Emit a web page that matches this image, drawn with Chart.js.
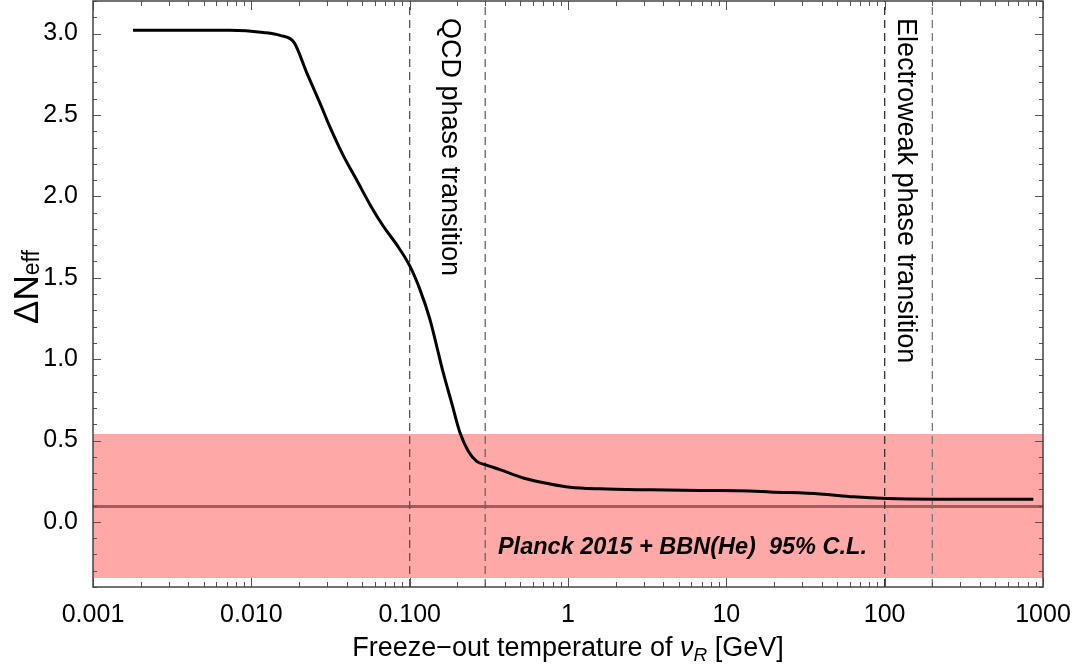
<!DOCTYPE html>
<html>
<head>
<meta charset="utf-8">
<script src="https://cdn.jsdelivr.net/npm/chart.js@4.4.1/dist/chart.umd.min.js"></script>
<style>
  html, body { margin: 0; padding: 0; background: #fff; }
  #wrap { width: 1077px; height: 671px; }
</style>
</head>
<body>
<div id="wrap"><canvas id="neff-chart"></canvas></div>
<script>
// freeze-out temperature of nu_R (GeV) and resulting Delta N_eff
const tempGeV = [0.00179, 0.00733, 0.0119, 0.0152, 0.0186, 0.0224, 0.0271, 0.0314, 0.0381, 0.0463,
    0.0562, 0.0682, 0.0828, 0.1005, 0.1162, 0.1344, 0.1482, 0.1631, 0.1842, 0.208,
    0.2346, 0.2651, 0.299, 0.372, 0.522, 0.77, 1.03, 1.59, 3.3, 7.0,
    14.1, 18.9, 39.1, 63.4, 103, 213, 869];
const deltaNeff = [3.02, 3.02, 3.007, 2.989, 2.946, 2.758, 2.574, 2.425, 2.250, 2.100,
    1.949, 1.816, 1.703, 1.570, 1.427, 1.243, 1.079, 0.915, 0.731, 0.547,
    0.434, 0.372, 0.352, 0.321, 0.270, 0.233, 0.213, 0.203, 0.197, 0.193,
    0.190, 0.184, 0.172, 0.154, 0.143, 0.139, 0.139];

// Planck 2015 + BBN(He) 95% C.L. band and central value
const planckBand = [-0.345, 0.54];
const planckCentral = [0.094];

// phase transition boundaries (GeV)
const transitionTemps = [0.1, 0.3, 100, 200];
const transitionLabels = ['QCD phase transition', 'Electroweak phase transition'];

const xTickValues = [0.001, 0.01, 0.1, 1, 10, 100, 1000];
const xTickLabels = ['0.001', '0.010', '0.100', '1', '10', '100', '1000'];
const yTickValues = [0, 0.5, 1, 1.5, 2, 2.5, 3];
const yTickLabels = ['0.0', '0.5', '1.0', '1.5', '2.0', '2.5', '3.0'];

const X_MIN = 0.001, X_MAX = 1000, Y_MIN = -0.4, Y_MAX = 3.2;
const FONT = "'Liberation Sans', Arial, Helvetica, sans-serif";
const dashColors = ['#555', '#666', '#333', '#777'];

// minor tick values for the frame
const xMinor = [];
for (let e = -3; e < 3; e++) {
    for (let m = 2; m <= 9; m++) xMinor.push(m * Math.pow(10, e));
}
const yMinor = [];
for (let i = -4; i <= 32; i++) yMinor.push(i / 10);

const frameTicks = {
    id: 'frameTicks',
    afterDraw(chart) {
        const { ctx, chartArea: a, scales: { x, y } } = chart;
        ctx.save();
        ctx.strokeStyle = '#555';
        ctx.lineWidth = 1;
        const seg = (x1, y1, x2, y2) => {
            ctx.beginPath();
            ctx.moveTo(x1, y1);
            ctx.lineTo(x2, y2);
            ctx.stroke();
        };
        xMinor.forEach(v => {
            const p = Math.round(x.getPixelForValue(v)) + 0.5;
            seg(p, a.bottom, p, a.bottom - 5);
            seg(p, a.top, p, a.top + 5);
        });
        xTickValues.forEach(v => {
            const p = Math.round(x.getPixelForValue(v)) + 0.5;
            seg(p, a.bottom, p, a.bottom - 9);
            seg(p, a.top, p, a.top + 9);
        });
        yMinor.forEach(v => {
            const p = Math.round(y.getPixelForValue(v)) + 0.5;
            seg(a.left, p, a.left + 4, p);
            seg(a.right, p, a.right - 4, p);
        });
        yTickValues.forEach(v => {
            const p = Math.round(y.getPixelForValue(v)) + 0.5;
            seg(a.left, p, a.left + 8, p);
            seg(a.right, p, a.right - 8, p);
        });
        ctx.lineWidth = 1.5;
        ctx.strokeStyle = '#444';
        ctx.strokeRect(a.left, a.top, a.right - a.left, a.bottom - a.top);
        ctx.restore();
    }
};

function drawRich(ctx, parts, cx, baseline) {
    let total = 0;
    parts.forEach(p => {
        ctx.font = p.font;
        p.w = ctx.measureText(p.text).width;
        total += p.w;
    });
    let xPos = cx - total / 2;
    parts.forEach(p => {
        ctx.font = p.font;
        ctx.fillText(p.text, xPos, baseline + (p.dy || 0));
        xPos += p.w;
    });
}

const textLabels = {
    id: 'textLabels',
    afterDraw(chart) {
        const { ctx, chartArea: a, scales: { x, y } } = chart;
        ctx.save();
        ctx.fillStyle = '#000';
        ctx.textAlign = 'left';
        ctx.textBaseline = 'alphabetic';

        // vertical transition labels
        ctx.font = `27px ${FONT}`;
        [[transitionLabels[0], x.getPixelForValue(transitionTemps[0]) + 32],
         [transitionLabels[1], x.getPixelForValue(transitionTemps[2]) + 13]].forEach(([t, px]) => {
            ctx.save();
            ctx.translate(px, a.top + 17);
            ctx.rotate(Math.PI / 2);
            ctx.fillText(t, 0, 0);
            ctx.restore();
        });

        // band label
        ctx.font = `italic bold 23.5px ${FONT}`;
        ctx.fillText('Planck 2015 + BBN(He)  95% C.L.', x.getPixelForValue(0.361), y.getPixelForValue(-0.2));

        // x axis title
        drawRich(ctx, [
            { text: 'Freeze\u2212out temperature of ', font: `27px ${FONT}` },
            { text: '\u03BD', font: `italic 27px ${FONT}` },
            { text: 'R', font: `italic 19px ${FONT}`, dy: 5 },
            { text: ' [GeV]', font: `27px ${FONT}` }
        ], (a.left + a.right) / 2, 656);

        // y axis title
        ctx.save();
        ctx.translate(38, 287);
        ctx.rotate(-Math.PI / 2);
        drawRich(ctx, [
            { text: '\u0394N', font: `35px ${FONT}` },
            { text: 'eff', font: `23px ${FONT}`, dy: 1 }
        ], 0, 0);
        ctx.restore();
        ctx.restore();
    }
};

const curvePoints = tempGeV.map((t, i) => ({ x: t, y: deltaNeff[i] }));

const datasets = [{
    label: 'Delta N_eff',
    data: curvePoints,
    borderColor: '#000',
    borderWidth: 3,
    pointRadius: 0,
    cubicInterpolationMode: 'monotone',
    fill: false,
    order: 0
}];

transitionTemps.forEach((t, i) => {
    datasets.push({
        label: 'transition ' + t,
        data: [{ x: t, y: Y_MIN }, { x: t, y: Y_MAX }],
        borderColor: dashColors[i],
        borderWidth: 1.3,
        borderDash: [8, 5],
        pointRadius: 0,
        fill: false,
        order: 1
    });
});

datasets.push({
    label: 'Planck central',
    data: [{ x: X_MIN, y: planckCentral[0] }, { x: X_MAX, y: planckCentral[0] }],
    borderColor: '#a65a5a',
    borderWidth: 3,
    pointRadius: 0,
    fill: false,
    order: 2
});

datasets.push({
    label: 'Planck band',
    data: [{ x: X_MIN, y: planckBand[1] }, { x: X_MAX, y: planckBand[1] }],
    borderColor: 'rgba(255,168,168,1)',
    borderWidth: 0,
    pointRadius: 0,
    backgroundColor: '#ffa8a8',
    fill: { value: planckBand[0] },
    order: 3
});

new Chart(document.getElementById('neff-chart'), {
    type: 'line',
    data: { datasets },
    options: {
        responsive: true,
        maintainAspectRatio: false,
        animation: false,
        layout: { padding: { top: 1, right: 34, left: 0, bottom: 0 } },
        plugins: {
            legend: { display: false },
            tooltip: { enabled: false }
        },
        scales: {
            x: {
                type: 'logarithmic',
                min: X_MIN,
                max: X_MAX,
                grid: { display: false },
                border: { display: false },
                afterBuildTicks: s => { s.ticks = xTickValues.map(v => ({ value: v })); },
                afterFit: s => { s.height = 84; s.paddingLeft = 0; s.paddingRight = 0; },
                ticks: {
                    autoSkip: false,
                    maxRotation: 0,
                    padding: 5,
                    color: '#000',
                    font: { family: FONT, size: 25 },
                    callback: (v, i) => xTickLabels[i]
                }
            },
            y: {
                type: 'linear',
                min: Y_MIN,
                max: Y_MAX,
                grid: { display: false },
                border: { display: false },
                afterBuildTicks: s => { s.ticks = yTickValues.map(v => ({ value: v })); },
                afterFit: s => { s.width = 93; s.paddingTop = 0; s.paddingBottom = 0; },
                ticks: {
                    padding: 7,
                    color: '#000',
                    font: { family: FONT, size: 25 },
                    callback: (v, i) => yTickLabels[i]
                }
            }
        }
    },
    plugins: [frameTicks, textLabels]
});
</script>
</body>
</html>
